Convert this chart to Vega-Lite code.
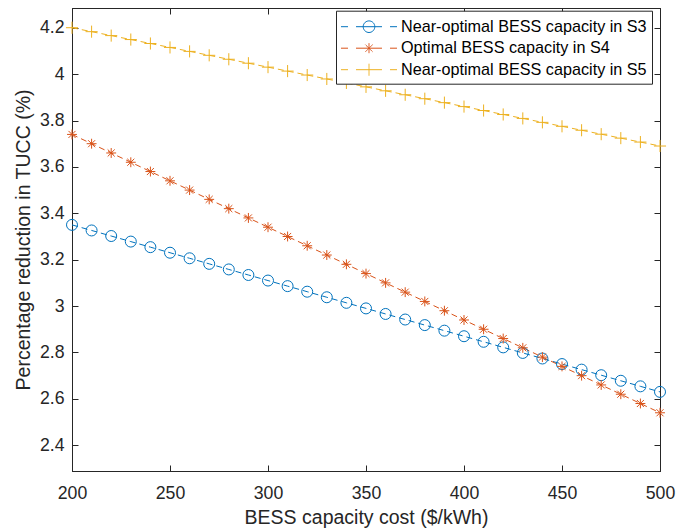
{
  "$schema": "https://vega.github.io/schema/vega-lite/v6.json",
  "width": 588,
  "height": 463,
  "autosize": {"type": "none"},
  "padding": {"left": 72, "top": 8, "right": 29, "bottom": 61},
  "background": "white",
  "config": {
    "font": "Liberation Sans",
    "view": {"stroke": "#262626", "strokeWidth": 1},
    "axis": {
      "domainColor": "#262626",
      "tickColor": "#262626",
      "labelColor": "#262626",
      "titleColor": "#262626",
      "grid": false,
      "tickSize": -6,
      "tickWidth": 1,
      "domainWidth": 1,
      "labelFlush": false,
      "labelOverlap": false
    }
  },
  "datasets": {
    "reduction": [
      {"cost": 200, "series": "Near-optimal BESS capacity in S3", "pct": 3.350},
      {"cost": 210, "series": "Near-optimal BESS capacity in S3", "pct": 3.326},
      {"cost": 220, "series": "Near-optimal BESS capacity in S3", "pct": 3.302},
      {"cost": 230, "series": "Near-optimal BESS capacity in S3", "pct": 3.278},
      {"cost": 240, "series": "Near-optimal BESS capacity in S3", "pct": 3.254},
      {"cost": 250, "series": "Near-optimal BESS capacity in S3", "pct": 3.230},
      {"cost": 260, "series": "Near-optimal BESS capacity in S3", "pct": 3.206},
      {"cost": 270, "series": "Near-optimal BESS capacity in S3", "pct": 3.182},
      {"cost": 280, "series": "Near-optimal BESS capacity in S3", "pct": 3.158},
      {"cost": 290, "series": "Near-optimal BESS capacity in S3", "pct": 3.134},
      {"cost": 300, "series": "Near-optimal BESS capacity in S3", "pct": 3.110},
      {"cost": 310, "series": "Near-optimal BESS capacity in S3", "pct": 3.086},
      {"cost": 320, "series": "Near-optimal BESS capacity in S3", "pct": 3.062},
      {"cost": 330, "series": "Near-optimal BESS capacity in S3", "pct": 3.038},
      {"cost": 340, "series": "Near-optimal BESS capacity in S3", "pct": 3.014},
      {"cost": 350, "series": "Near-optimal BESS capacity in S3", "pct": 2.990},
      {"cost": 360, "series": "Near-optimal BESS capacity in S3", "pct": 2.966},
      {"cost": 370, "series": "Near-optimal BESS capacity in S3", "pct": 2.942},
      {"cost": 380, "series": "Near-optimal BESS capacity in S3", "pct": 2.918},
      {"cost": 390, "series": "Near-optimal BESS capacity in S3", "pct": 2.894},
      {"cost": 400, "series": "Near-optimal BESS capacity in S3", "pct": 2.870},
      {"cost": 410, "series": "Near-optimal BESS capacity in S3", "pct": 2.846},
      {"cost": 420, "series": "Near-optimal BESS capacity in S3", "pct": 2.822},
      {"cost": 430, "series": "Near-optimal BESS capacity in S3", "pct": 2.798},
      {"cost": 440, "series": "Near-optimal BESS capacity in S3", "pct": 2.774},
      {"cost": 450, "series": "Near-optimal BESS capacity in S3", "pct": 2.750},
      {"cost": 460, "series": "Near-optimal BESS capacity in S3", "pct": 2.726},
      {"cost": 470, "series": "Near-optimal BESS capacity in S3", "pct": 2.702},
      {"cost": 480, "series": "Near-optimal BESS capacity in S3", "pct": 2.678},
      {"cost": 490, "series": "Near-optimal BESS capacity in S3", "pct": 2.654},
      {"cost": 500, "series": "Near-optimal BESS capacity in S3", "pct": 2.630},
      {"cost": 200, "series": "Optimal BESS capacity in S4", "pct": 3.74},
      {"cost": 210, "series": "Optimal BESS capacity in S4", "pct": 3.70},
      {"cost": 220, "series": "Optimal BESS capacity in S4", "pct": 3.66},
      {"cost": 230, "series": "Optimal BESS capacity in S4", "pct": 3.62},
      {"cost": 240, "series": "Optimal BESS capacity in S4", "pct": 3.58},
      {"cost": 250, "series": "Optimal BESS capacity in S4", "pct": 3.54},
      {"cost": 260, "series": "Optimal BESS capacity in S4", "pct": 3.50},
      {"cost": 270, "series": "Optimal BESS capacity in S4", "pct": 3.46},
      {"cost": 280, "series": "Optimal BESS capacity in S4", "pct": 3.42},
      {"cost": 290, "series": "Optimal BESS capacity in S4", "pct": 3.38},
      {"cost": 300, "series": "Optimal BESS capacity in S4", "pct": 3.34},
      {"cost": 310, "series": "Optimal BESS capacity in S4", "pct": 3.30},
      {"cost": 320, "series": "Optimal BESS capacity in S4", "pct": 3.26},
      {"cost": 330, "series": "Optimal BESS capacity in S4", "pct": 3.22},
      {"cost": 340, "series": "Optimal BESS capacity in S4", "pct": 3.18},
      {"cost": 350, "series": "Optimal BESS capacity in S4", "pct": 3.14},
      {"cost": 360, "series": "Optimal BESS capacity in S4", "pct": 3.10},
      {"cost": 370, "series": "Optimal BESS capacity in S4", "pct": 3.06},
      {"cost": 380, "series": "Optimal BESS capacity in S4", "pct": 3.02},
      {"cost": 390, "series": "Optimal BESS capacity in S4", "pct": 2.98},
      {"cost": 400, "series": "Optimal BESS capacity in S4", "pct": 2.94},
      {"cost": 410, "series": "Optimal BESS capacity in S4", "pct": 2.90},
      {"cost": 420, "series": "Optimal BESS capacity in S4", "pct": 2.86},
      {"cost": 430, "series": "Optimal BESS capacity in S4", "pct": 2.82},
      {"cost": 440, "series": "Optimal BESS capacity in S4", "pct": 2.78},
      {"cost": 450, "series": "Optimal BESS capacity in S4", "pct": 2.74},
      {"cost": 460, "series": "Optimal BESS capacity in S4", "pct": 2.70},
      {"cost": 470, "series": "Optimal BESS capacity in S4", "pct": 2.66},
      {"cost": 480, "series": "Optimal BESS capacity in S4", "pct": 2.62},
      {"cost": 490, "series": "Optimal BESS capacity in S4", "pct": 2.58},
      {"cost": 500, "series": "Optimal BESS capacity in S4", "pct": 2.54},
      {"cost": 200, "series": "Near-optimal BESS capacity in S5", "pct": 4.200},
      {"cost": 210, "series": "Near-optimal BESS capacity in S5", "pct": 4.183},
      {"cost": 220, "series": "Near-optimal BESS capacity in S5", "pct": 4.166},
      {"cost": 230, "series": "Near-optimal BESS capacity in S5", "pct": 4.149},
      {"cost": 240, "series": "Near-optimal BESS capacity in S5", "pct": 4.132},
      {"cost": 250, "series": "Near-optimal BESS capacity in S5", "pct": 4.115},
      {"cost": 260, "series": "Near-optimal BESS capacity in S5", "pct": 4.098},
      {"cost": 270, "series": "Near-optimal BESS capacity in S5", "pct": 4.081},
      {"cost": 280, "series": "Near-optimal BESS capacity in S5", "pct": 4.064},
      {"cost": 290, "series": "Near-optimal BESS capacity in S5", "pct": 4.047},
      {"cost": 300, "series": "Near-optimal BESS capacity in S5", "pct": 4.030},
      {"cost": 310, "series": "Near-optimal BESS capacity in S5", "pct": 4.013},
      {"cost": 320, "series": "Near-optimal BESS capacity in S5", "pct": 3.996},
      {"cost": 330, "series": "Near-optimal BESS capacity in S5", "pct": 3.979},
      {"cost": 340, "series": "Near-optimal BESS capacity in S5", "pct": 3.962},
      {"cost": 350, "series": "Near-optimal BESS capacity in S5", "pct": 3.945},
      {"cost": 360, "series": "Near-optimal BESS capacity in S5", "pct": 3.928},
      {"cost": 370, "series": "Near-optimal BESS capacity in S5", "pct": 3.911},
      {"cost": 380, "series": "Near-optimal BESS capacity in S5", "pct": 3.894},
      {"cost": 390, "series": "Near-optimal BESS capacity in S5", "pct": 3.877},
      {"cost": 400, "series": "Near-optimal BESS capacity in S5", "pct": 3.860},
      {"cost": 410, "series": "Near-optimal BESS capacity in S5", "pct": 3.843},
      {"cost": 420, "series": "Near-optimal BESS capacity in S5", "pct": 3.826},
      {"cost": 430, "series": "Near-optimal BESS capacity in S5", "pct": 3.809},
      {"cost": 440, "series": "Near-optimal BESS capacity in S5", "pct": 3.792},
      {"cost": 450, "series": "Near-optimal BESS capacity in S5", "pct": 3.775},
      {"cost": 460, "series": "Near-optimal BESS capacity in S5", "pct": 3.758},
      {"cost": 470, "series": "Near-optimal BESS capacity in S5", "pct": 3.741},
      {"cost": 480, "series": "Near-optimal BESS capacity in S5", "pct": 3.724},
      {"cost": 490, "series": "Near-optimal BESS capacity in S5", "pct": 3.707},
      {"cost": 500, "series": "Near-optimal BESS capacity in S5", "pct": 3.690}
    ]
  },
  "data": {"name": "reduction"},
  "layer": [
    {
      "mark": {"type": "line", "strokeWidth": 1, "strokeDash": [6, 4], "clip": true},
      "encoding": {
        "x": {
          "field": "cost", "type": "quantitative",
          "scale": {"domain": [200, 500], "nice": false, "zero": false},
          "axis": {
            "orient": "bottom",
            "values": [200, 250, 300, 350, 400, 450, 500],
            "format": "d",
            "labelFont": "Liberation Sans",
            "labelFontSize": 17.7,
            "labelPadding": 19,
            "title": "BESS capacity cost ($/kWh)",
            "titleFont": "Liberation Sans",
            "titleFontSize": 19.5,
            "titleFontWeight": "normal",
            "titlePadding": 7
          }
        },
        "y": {
          "field": "pct", "type": "quantitative",
          "scale": {"domain": [2.289, 4.285], "nice": false, "zero": false},
          "axis": {
            "orient": "left",
            "values": [2.4, 2.6, 2.8, 3.0, 3.2, 3.4, 3.6, 3.8, 4.0, 4.2],
            "format": "~g",
            "labelFont": "Liberation Sans",
            "labelFontSize": 17.7,
            "labelPadding": 14,
            "title": "Percentage reduction in TUCC (%)",
            "titleFont": "Liberation Sans",
            "titleFontSize": 19.5,
            "titleFontWeight": "normal",
            "titlePadding": 6
          }
        },
        "color": {
          "field": "series", "type": "nominal",
          "scale": {
            "domain": ["Near-optimal BESS capacity in S3", "Optimal BESS capacity in S4", "Near-optimal BESS capacity in S5"],
            "range": ["#0072BD", "#D95319", "#EDB120"]
          },
          "legend": {
            "orient": "none",
            "legendX": 264,
            "legendY": 2.7,
            "direction": "vertical",
            "title": null,
            "fillColor": "white",
            "strokeColor": "#262626",
            "padding": 5,
            "labelFont": "Liberation Sans",
            "labelFontSize": 16.2,
            "labelColor": "#000000",
            "labelLimit": 400,
            "labelOffset": 21,
            "symbolOffset": 17,
            "rowPadding": 1.5,
            "encode": {
              "symbols": {
                "update": {
                  "size": {"value": 441},
                  "strokeWidth": {"value": 1},
                  "strokeDash": {"value": [1, 0]},
                  "opacity": {"value": 1},
                  "fill": {"value": "transparent"},
                  "stroke": {"scale": "color", "field": "value"},
                  "shape": {
                    "signal": "datum.value === 'Near-optimal BESS capacity in S3' ? 'M-2.667,0H-2M-1.238,0H1.238M2,0H2.667M0.552,0A0.552,0.552,0,1,1,-0.552,0A0.552,0.552,0,1,1,0.552,0' : datum.value === 'Optimal BESS capacity in S4' ? 'M-2.667,0H-2M-1.238,0H1.238M2,0H2.667M0,-0.476V0.476M-0.34,-0.34L0.34,0.34M-0.34,0.34L0.34,-0.34' : 'M-2.667,0H-2M-1.238,0H1.238M2,0H2.667M0,-0.571V0.571'"
                  }
                }
              }
            }
          }
        },
        "detail": {"field": "series"}
      }
    },
    {
      "mark": {"type": "point", "filled": false, "size": 121, "strokeWidth": 1, "opacity": 1, "clip": false},
      "encoding": {
        "x": {
          "field": "cost", "type": "quantitative",
          "axis": {
            "orient": "top",
            "values": [200, 250, 300, 350, 400, 450, 500],
            "labels": false,
            "title": null
          }
        },
        "y": {
          "field": "pct", "type": "quantitative",
          "axis": {
            "orient": "right",
            "values": [2.4, 2.6, 2.8, 3.0, 3.2, 3.4, 3.6, 3.8, 4.0, 4.2],
            "labels": false,
            "title": null
          }
        },
        "color": {
          "field": "series", "type": "nominal",
          "legend": {
            "orient": "none",
            "legendX": 264,
            "legendY": 2.7,
            "direction": "vertical",
            "title": null,
            "fillColor": "white",
            "strokeColor": "#262626",
            "padding": 5,
            "labelFont": "Liberation Sans",
            "labelFontSize": 16.2,
            "labelColor": "#000000",
            "labelLimit": 400,
            "labelOffset": 21,
            "symbolOffset": 17,
            "rowPadding": 1.5,
            "encode": {
              "symbols": {
                "update": {
                  "size": {"value": 441},
                  "strokeWidth": {"value": 1},
                  "strokeDash": {"value": [1, 0]},
                  "opacity": {"value": 1},
                  "fill": {"value": "transparent"},
                  "stroke": {"scale": "color", "field": "value"},
                  "shape": {
                    "signal": "datum.value === 'Near-optimal BESS capacity in S3' ? 'M-2.667,0H-2M-1.238,0H1.238M2,0H2.667M0.552,0A0.552,0.552,0,1,1,-0.552,0A0.552,0.552,0,1,1,0.552,0' : datum.value === 'Optimal BESS capacity in S4' ? 'M-2.667,0H-2M-1.238,0H1.238M2,0H2.667M0,-0.476V0.476M-0.34,-0.34L0.34,0.34M-0.34,0.34L0.34,-0.34' : 'M-2.667,0H-2M-1.238,0H1.238M2,0H2.667M0,-0.571V0.571'"
                  }
                }
              }
            }
          }
        },
        "shape": {
          "field": "series", "type": "nominal",
          "scale": {
            "domain": ["Near-optimal BESS capacity in S3", "Near-optimal BESS capacity in S5", "Optimal BESS capacity in S4"],
            "range": [
              "M1,0A1,1,0,1,1,-1,0A1,1,0,1,1,1,0Z",
              "M-1.1,0H1.1M0,-1.1V1.1",
              "M-0.9,0H0.9M0,-0.9V0.9M-0.64,-0.64L0.64,0.64M-0.64,0.64L0.64,-0.64"
            ]
          },
          "legend": null
        }
      }
    }
  ]
}
